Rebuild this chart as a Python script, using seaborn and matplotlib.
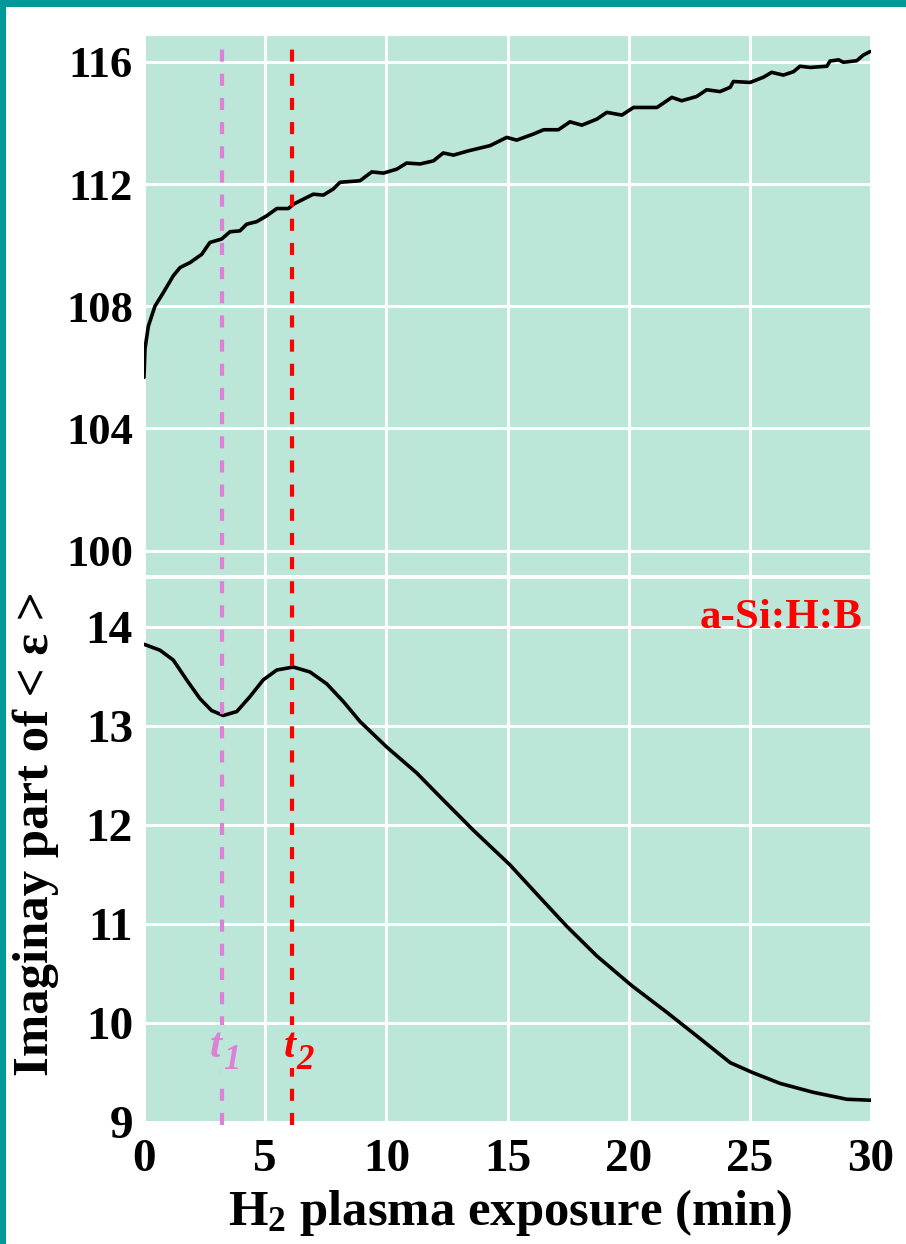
import numpy as np
import pandas as pd
import matplotlib
matplotlib.use("Agg")
import matplotlib.pyplot as plt
import seaborn as sns
from matplotlib.patches import Rectangle

# ---------------- data ----------------
t_real = [0.0, 0.04, 0.18, 0.45, 0.8, 1.21, 1.49, 1.9, 2.38, 2.72, 3.2, 3.55, 3.96,
          4.24, 4.65, 5.06, 5.48, 5.96, 6.16, 6.71, 6.99, 7.4, 7.81, 8.09, 8.91,
          9.4, 9.88, 10.43, 10.84, 11.39, 11.94, 12.35, 12.77, 13.39, 14.28, 14.97,
          15.38, 16.07, 16.49, 17.1, 17.58, 18.07, 18.69, 19.1, 19.72, 20.2, 21.17,
          21.78, 22.19, 22.81, 23.22, 23.77, 24.19, 24.32, 25.01, 25.56, 25.9, 26.38,
          26.8, 27.07, 27.49, 28.18, 28.31, 28.66, 28.86, 29.41, 29.69, 29.96]
eps_real = [105.67, 106.6, 107.35, 108.0, 108.45, 109.0, 109.27, 109.43, 109.7, 110.09,
            110.2, 110.44, 110.47, 110.69, 110.77, 110.96, 111.2, 111.2, 111.34, 111.56,
            111.67, 111.64, 111.84, 112.06, 112.11, 112.4, 112.36, 112.49, 112.69, 112.66,
            112.76, 113.02, 112.95, 113.09, 113.26, 113.53, 113.44, 113.64, 113.78, 113.78,
            114.04, 113.93, 114.13, 114.35, 114.26, 114.51, 114.51, 114.84, 114.73, 114.87,
            115.09, 115.03, 115.17, 115.36, 115.33, 115.5, 115.66, 115.57, 115.68, 115.86,
            115.82, 115.86, 116.03, 116.07, 115.99, 116.04, 116.23, 116.34]

t_imag = [0.0, 0.66, 1.21, 1.76, 2.31, 2.79, 3.27, 3.83, 4.37, 4.92, 5.48, 6.16, 6.85,
          7.54, 8.23, 8.91, 10.02, 11.25, 12.21, 13.59, 15.1, 16.34, 17.44, 18.68,
          20.12, 21.57, 22.81, 24.19, 25.11, 26.25, 27.62, 29.0, 30.0]
eps_imag = [13.83, 13.77, 13.67, 13.47, 13.28, 13.16, 13.11, 13.15, 13.30, 13.47, 13.57,
            13.60, 13.55, 13.43, 13.25, 13.05, 12.79, 12.53, 12.29, 11.95, 11.6, 11.27,
            10.98, 10.68, 10.38, 10.11, 9.87, 9.60, 9.50, 9.39, 9.30, 9.23, 9.22]

marker_times = [3.2, 6.1]
marker_subs = ["1", "2"]
marker_colors = ["#dd80d8", "#ff0000"]

top_yticks = [100, 104, 108, 112, 116]
bot_yticks = [9, 10, 11, 12, 13, 14]
xticks = [0, 5, 10, 15, 20, 25, 30]

sample_label = "a-Si:H:B"
ylabel_text = "Imaginay part of < \u03b5 >"
xlabel_text = r"H$_{\mathbf{2}}$ plasma exposure (min)"

# ---------------- style ----------------
MINT = "#bbe6d8"
TEAL = "#009999"
sns.set_theme(style="darkgrid", rc={"axes.facecolor": MINT, "grid.color": "white",
                                    "grid.linewidth": 2.2, "figure.facecolor": "white",
                                    "text.color": "black", "xtick.color": "black",
                                    "ytick.color": "black"})
plt.rcParams["font.family"] = ["Liberation Serif", "DejaVu Serif"]
plt.rcParams["font.weight"] = "bold"
plt.rcParams["mathtext.fontset"] = "custom"
plt.rcParams["mathtext.rm"] = "Liberation Serif:bold"
plt.rcParams["mathtext.bf"] = "Liberation Serif:bold"
plt.rcParams["mathtext.it"] = "Liberation Serif:italic:bold"

W, H = 906, 1244
fig = plt.figure(figsize=(W / 100, H / 100), dpi=100)

left, right = 144 / W, 871 / W
ax_top = fig.add_axes([left, 1 - 575 / H, right - left, (575 - 36) / H])
ax_bot = fig.add_axes([left, 1 - 1122 / H, right - left, (1122 - 579) / H], sharex=ax_top)

df_real = pd.DataFrame({"t": t_real, "eps": eps_real})
df_imag = pd.DataFrame({"t": t_imag, "eps": eps_imag})
sns.lineplot(data=df_real, x="t", y="eps", ax=ax_top, color="black", lw=2.6, estimator=None)
sns.lineplot(data=df_imag, x="t", y="eps", ax=ax_bot, color="black", lw=2.6, estimator=None)

ax_top.set_xlim(0, 30)
ax_top.set_ylim(99.2, 116.85)
ax_bot.set_ylim(9.0, 14.49)
ax_top.set_yticks(top_yticks)
ax_bot.set_yticks(bot_yticks)
ax_bot.set_xticks(xticks)

for ax in (ax_top, ax_bot):
    ax.set_xlabel("")
    ax.set_ylabel("")
    for s in ax.spines.values():
        s.set_visible(False)
    ax.tick_params(length=0, colors="black")

ax_top.tick_params(axis="x", labelbottom=False)
ax_top.tick_params(axis="y", labelsize=32, pad=8)
ax_bot.tick_params(axis="y", labelsize=34, pad=8)
ax_bot.tick_params(axis="x", labelsize=34, pad=12)
for lab in ax_top.get_yticklabels() + ax_bot.get_yticklabels() + ax_bot.get_xticklabels():
    lab.set_fontweight("bold")
    lab.set_color("black")

# vertical dashed markers spanning both panels
span_top = (1122 - 44) / (1122 - 579)
label_shift = [0.0, 0.15]
for tm, sub, col, sh in zip(marker_times, marker_subs, marker_colors, label_shift):
    ax_bot.axvline(tm, ymin=-0.006, ymax=span_top, color=col, lw=3.0,
                   dashes=(2.9, 2.9), clip_on=False, zorder=3)
    ax_bot.annotate("t", xy=(tm + sh, 9.66), xytext=(0, 0), textcoords="offset points",
                    color=col, fontsize=31, fontstyle="italic", fontweight="bold",
                    ha="right", va="baseline", zorder=4,
                    bbox=dict(facecolor=MINT, edgecolor="none", pad=2))
    ax_bot.annotate(sub, xy=(tm + sh, 9.66), xytext=(1, -9), textcoords="offset points",
                    color=col, fontsize=25, fontstyle="italic", fontweight="bold",
                    ha="left", va="baseline", zorder=4,
                    bbox=dict(facecolor=MINT, edgecolor="none", pad=2))

ax_bot.text(29.63, 14.1, sample_label, color="#ff0000", fontsize=31, fontweight="bold",
            ha="right", va="center", zorder=4)

fig.text(36 / W, 1 - 834 / H, ylabel_text, rotation=90, ha="center", va="center",
         fontsize=36.5, fontweight="bold", color="black")
fig.text(510 / W, 1 - 1225 / H, xlabel_text, ha="center", va="baseline",
         fontsize=36.5, fontweight="bold", color="black")

# teal frame (left and top bands)
fig.patches.append(Rectangle((0, 0), 6 / W, 1, transform=fig.transFigure,
                             facecolor=TEAL, edgecolor="none", zorder=10))
fig.patches.append(Rectangle((0, 1 - 7 / H), 1, 7 / H, transform=fig.transFigure,
                             facecolor=TEAL, edgecolor="none", zorder=10))

fig.savefig("out.png", dpi=100)
